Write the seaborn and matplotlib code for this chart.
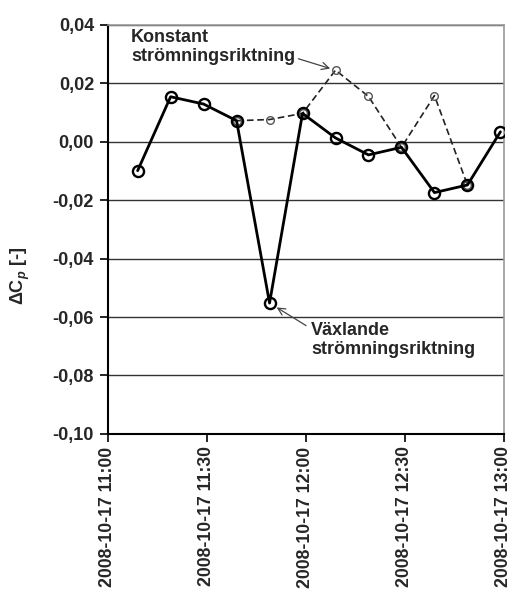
import pandas as pd
import numpy as np
import matplotlib
matplotlib.use("Agg")
import matplotlib.pyplot as plt
import matplotlib.dates as mdates
from matplotlib.ticker import FuncFormatter, MultipleLocator
import seaborn as sns

## Data
times = ["11:09", "11:19", "11:29", "11:39", "11:49", "11:59",
         "12:09", "12:19", "12:29", "12:39", "12:49", "12:59"]
vaxlande = [-0.0099, 0.0154, 0.0129, 0.0072, -0.0552, 0.0097,
            0.0013, -0.0045, -0.0019, -0.0174, -0.0148, 0.0034]
konstant = [np.nan, np.nan, np.nan, 0.0072, 0.0076, 0.0097,
            0.0245, 0.0155, -0.0019, 0.0158, -0.0148, np.nan]

df = pd.DataFrame({
    "tid": pd.to_datetime(["2008-10-17 " + t for t in times]),
    "vaxlande": vaxlande,
    "konstant": konstant,
})

## Style
sns.set_style("white")
plt.rcParams["font.family"] = ["Liberation Sans", "DejaVu Sans"]
plt.rcParams["font.weight"] = "bold"
plt.rcParams["mathtext.fontset"] = "custom"
plt.rcParams["mathtext.rm"] = "Liberation Sans:bold"
plt.rcParams["mathtext.it"] = "Liberation Sans:italic:bold"

fig = plt.figure(figsize=(5.14, 5.92), dpi=100)
ax = fig.add_axes([0.210, 0.267, 0.770, 0.691])

## Lines
kdf = df.dropna(subset=["konstant"])
sns.lineplot(
    x="tid", y="konstant", data=kdf, ax=ax,
    color="#222222", linewidth=1.2, linestyle=(0, (4, 2.2)),
    marker="o", markersize=5.5, markerfacecolor="none",
    markeredgecolor="#555555", markeredgewidth=1.0, zorder=3
)
sns.lineplot(
    x="tid", y="vaxlande", data=df, ax=ax,
    color="black", linewidth=2.0,
    marker="o", markersize=8, markerfacecolor="none",
    markeredgecolor="black", markeredgewidth=1.7, zorder=4
)

## Axes
ax.set_ylim(-0.10, 0.04)
ax.yaxis.set_major_locator(MultipleLocator(0.02))
ax.yaxis.set_major_formatter(FuncFormatter(lambda v, p: f"{v:.2f}".replace(".", ",").replace("-0,00", "0,00")))
ax.set_xlim(pd.Timestamp("2008-10-17 11:00"), pd.Timestamp("2008-10-17 13:00"))
ax.xaxis.set_major_locator(mdates.MinuteLocator(byminute=[0, 30]))
ax.xaxis.set_major_formatter(mdates.DateFormatter("%Y-%m-%d %H:%M"))

ax.grid(axis="y", color="#333333", linewidth=1.0)
ax.grid(axis="x", visible=False)
ax.tick_params(axis="both", direction="out", length=6, width=1.2, color="black",
               labelsize=13, left=True, bottom=True)
ax.tick_params(axis="x", pad=3, labelsize=12.7)
ax.tick_params(axis="y", pad=4)
plt.setp(ax.get_xticklabels(), rotation=90, fontweight="bold")
plt.setp(ax.get_yticklabels(), fontweight="bold")

for s in ["left", "bottom"]:
    ax.spines[s].set_color("black")
    ax.spines[s].set_linewidth(1.5)
for s in ["top", "right"]:
    ax.spines[s].set_color("#999999")
    ax.spines[s].set_linewidth(1.2)

ax.set_xlabel("")
ax.set_ylabel("ΔC$_{\\mathit{p}}$ [-]", fontsize=13, fontweight="bold", va="center")
ax.yaxis.set_label_coords(-0.22, 0.386)

## Annotations
ax.annotate("Konstant\nströmningsriktning",
            xy=(df["tid"][6], konstant[6]), xycoords="data",
            xytext=(131, 592 - 29), textcoords="figure pixels",
            ha="left", va="top", fontsize=13, fontweight="bold", linespacing=1.15,
            arrowprops=dict(arrowstyle="->", color="#444444", lw=0.9,
                            shrinkA=0, shrinkB=4, relpos=(1.0, 0.2)))
ax.annotate("Växlande\nströmningsriktning",
            xy=(df["tid"][4], vaxlande[4]), xycoords="data",
            xytext=(311, 592 - 322), textcoords="figure pixels",
            ha="left", va="top", fontsize=13, fontweight="bold", linespacing=1.15,
            arrowprops=dict(arrowstyle="->", color="#444444", lw=0.9,
                            shrinkA=0, shrinkB=6, relpos=(-0.03, 0.9)))

plt.savefig("out.png", dpi=100)
